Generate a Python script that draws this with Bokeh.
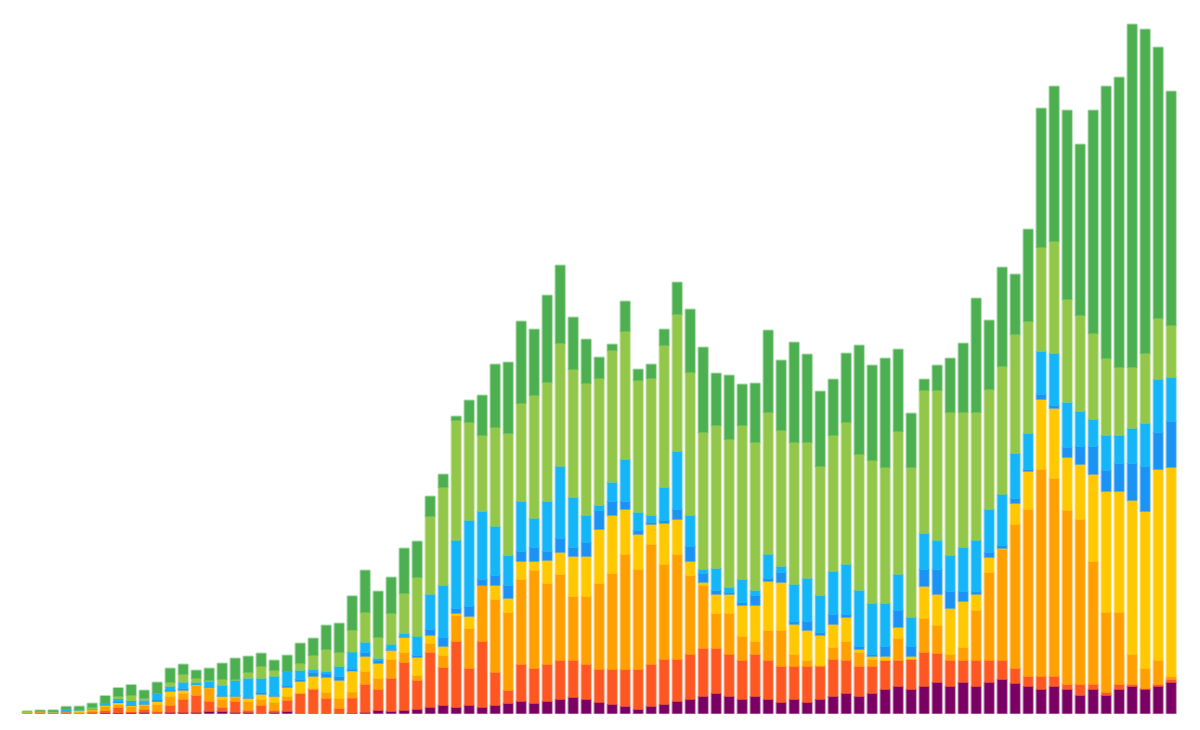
from bokeh.plotting import figure
from bokeh.models import ColumnDataSource, Range1d
from bokeh.embed import file_html
from bokeh.resources import INLINE

periods = list(range(89))

purple = [0, 0, 0, 0, 0, 0, 0.4, 0.4, 0.4, 1, 0, 1, 1, 1, 2, 2, 1, 1, 0, 1, 2, 0,
          0, 0, 0, 0.3, 1, 3, 2, 3, 4, 6, 8, 6, 8, 6, 8, 10, 12, 10, 12, 14, 16, 14, 11, 9, 7, 4, 7, 9, 12, 14,
          17, 20, 17, 14, 17, 14, 11, 14, 11, 14, 17, 20, 17, 20, 24, 27, 24, 27, 31, 27, 31, 27, 31, 34,
          30, 27, 24, 27, 24, 18, 24, 18, 24, 27, 24, 27, 31]
red = [0, 1, 0.5, 1, 0.3, 1.3, 2, 5.3, 1, 3, 2, 7, 13, 17, 10, 4, 11, 2, 8, 2, 11, 20,
       24, 15, 5, 15, 28, 21, 33, 48, 29, 55, 38, 66, 37, 66, 33, 13, 37, 35, 37, 39, 37, 35, 33, 35, 37, 40, 42, 45, 42, 45,
       48, 45, 42, 39, 42, 39, 36, 33, 36, 33, 37, 33, 30, 27, 29, 26, 30, 34, 29, 26, 22, 26, 22, 19,
       15, 10, 13, 10, 5, 11, 5, 3, 5, 2, 1, 2, 3]
orange = [0.5, 0, 0, 0.7, 0.7, 1.7, 4, 3, 5, 3.7, 7, 9, 6, 9.7, 13, 8, 4, 9, 6, 8, 4, 0,
          1, 6, 10, 6, 13, 11, 19, 10, 5, 9, 12, 26, 40, 56, 73, 78, 85, 98, 81, 86, 64, 68, 86, 96, 115, 100, 120, 95, 105, 79,
          63, 35, 41, 24, 13, 30, 36, 12, 6, 1, 12, 19, 14, 7, 0, 22, 0, 34, 28, 6, 13, 50, 88, 111,
          144, 167, 207, 198, 174, 165, 123, 80, 72, 30, 20, 24, 3]
yellow = [0.5, 1, 0.7, 0, 2, 1, 1.7, 1.7, 1, 1.3, 2.7, 5, 3, 0.7, 0.7, 3, 1, 3, 5, 6, 9, 12,
          12, 15, 18, 21, 15, 15, 9, 15, 18, 8, 9, 2, 12, 0, 14, 14, 18, 9, 23, 22, 40, 40, 54, 58, 45, 35, 20, 41, 35, 14,
          3, 19, 19, 31, 36, 49, 48, 30, 30, 30, 23, 24, 3, 3, 4, 11, 3, 32, 31, 46, 46, 16, 15, 1,
          21, 38, 70, 70, 53, 55, 87, 121, 121, 154, 157, 191, 209]
blue = [0, 0, 0, 0, 0, 0, 0.3, 1, 0.7, 1, 1.7, 1.3, 1.7, 0, 0, 1, 1, 1, 2, 1, 2, 2,
        4, 4, 4, 2, 4, 3, 1, 1, 2, 6, 9, 5, 10, 6, 10, 13, 10, 14, 9, 14, 9, 14, 19, 14, 8, 4, 2, 3, 10, 15,
        9, 4, 2, 3, 10, 3, 10, 3, 9, 3, 10, 3, 3, 2, 10, 17, 10, 17, 25, 17, 10, 3, 5, 3,
        5, 2, 5, 3, 10, 18, 28, 21, 28, 37, 45, 37, 46]
cyan = [0, 0, 0.7, 2, 0.7, 0.7, 1.7, 3, 4.3, 3, 6, 3.7, 6.3, 2.7, 6.3, 10, 15, 19, 14, 19, 14, 9,
        3, 2, 10, 17, 10, 2, 5, 3, 19, 35, 52, 68, 86, 68, 49, 30, 50, 29, 50, 72, 50, 27, 5, 19, 42, 18, 7, 33, 58, 31,
        4, 22, 5, 23, 5, 24, 6, 37, 43, 37, 43, 50, 56, 51, 43, 36, 29, 36, 29, 36, 44, 51, 43, 51,
        45, 36, 43, 52, 45, 35, 27, 35, 28, 35, 43, 53, 44]
lightgreen = [1, 0, 0, 0.3, 0, 1.3, 0, 2.7, 5.7, 2, 0.7, 4, 8, 4, 1, 6, 1, 6, 12, 6, 0, 7,
              14, 22, 14, 22, 30, 21, 31, 40, 59, 78, 98, 120, 98, 76, 99, 122, 98, 123, 119, 123, 128, 132, 127, 132, 128, 132, 137, 142, 137, 143,
              137, 143, 148, 154, 148, 142, 136, 142, 136, 129, 136, 142, 136, 143, 136, 143, 150, 143, 150, 143, 135, 128, 120, 128,
              119, 112, 104, 112, 103, 96, 86, 77, 68, 61, 70, 61, 52]
green = [0, 1, 1.3, 2.7, 3.3, 4, 7.3, 8.3, 10.3, 8, 11, 14, 10, 8, 12, 16, 21, 16, 13, 10, 16, 20,
         17, 24, 29, 34, 42, 46, 36, 45, 36, 20, 13, 4, 22, 40, 63, 71, 82, 66, 87, 78, 52, 44, 21, 6, 30, 11, 14, 16, 32, 63,
         85, 52, 64, 41, 59, 82, 70, 100, 88, 75, 56, 69, 109, 95, 109, 82, 54, 11, 25, 54, 69, 114, 69, 99,
         60, 92, 139, 155, 189, 171, 223, 272, 290, 343, 324, 271, 234]

series = ["purple", "red", "orange", "yellow", "blue", "cyan", "lightgreen", "green"]
colors = ["#7B0063", "#FF5722", "#FFA000", "#FFC800", "#1B93F5", "#14B6F8", "#92C74A", "#4CB050"]

src = ColumnDataSource(dict(x=periods, purple=purple, red=red, orange=orange, yellow=yellow,
                            blue=blue, cyan=cyan, lightgreen=lightgreen, green=green))

p = figure(width=1184, height=714, x_range=Range1d(-2.054, 89.025), y_range=Range1d(-1, 713),
           output_backend="svg", toolbar_location=None, min_border=0,
           x_axis_location=None, y_axis_location=None)
p.grid.visible = False
p.outline_line_color = None
p.background_fill_color = "white"
p.border_fill_color = "white"

# soft outer edge
p.vbar_stack(series, x="x", width=0.72, source=src, fill_alpha=0,
             line_color=colors, line_alpha=0.45, line_width=2)
# fills
p.vbar_stack(series, x="x", width=0.72, source=src, fill_color=colors, line_color=None)

open("out.html", "w").write(file_html(p, INLINE))
